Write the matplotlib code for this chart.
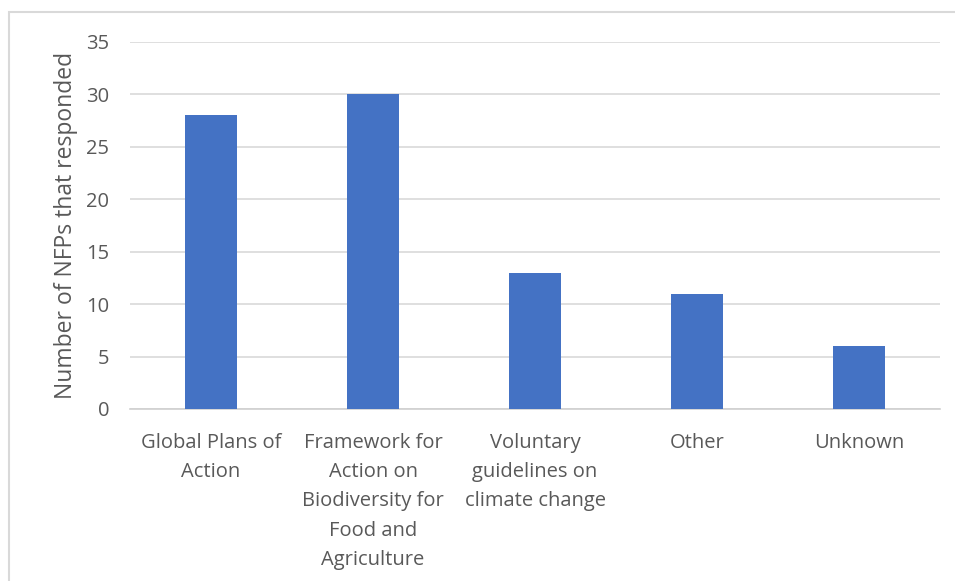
import matplotlib.pyplot as plt
from matplotlib.patches import Rectangle

categories = ["Global Plans of\nAction",
              "Framework for\nAction on\nBiodiversity for\nFood and\nAgriculture",
              "Voluntary\nguidelines on\nclimate change",
              "Other",
              "Unknown"]
values = [28, 30, 13, 11, 6]
yticks = [0, 5, 10, 15, 20, 25, 30, 35]

plt.rcParams['font.family'] = ['Open Sans', 'DejaVu Sans']
txt = "#595959"

fig = plt.figure(figsize=(9.55, 5.81), dpi=100)
ax = fig.add_axes([130/955, 1 - 409/581, 810/955, 367/581])

x = range(len(categories))
ax.bar(x, values, width=0.32, color="#4472C4", zorder=3)

ax.set_ylim(0, 35)
ax.set_xlim(-0.5, len(categories) - 0.5)
ax.set_yticks(yticks)
ax.set_xticks(list(x))
ax.set_xticklabels(categories, fontsize=14.5, color=txt, linespacing=1.62, va="top")
ax.tick_params(axis="y", labelsize=14.5, colors=txt, length=0, pad=15)
ax.tick_params(axis="x", length=0, pad=17)
ax.grid(axis="y", color="#D9D9D9", linewidth=1.2, zorder=0)
for s in ["top", "right", "left"]:
    ax.spines[s].set_visible(False)
ax.spines["bottom"].set_color("#D0D0D0")
ax.spines["bottom"].set_linewidth(1.2)
ax.set_ylabel("Number of NFPs that responded", fontsize=16.5, color=txt, labelpad=6)

# outer chart frame
fig.patches.append(Rectangle((9/955, -0.1), 1.2, 1 - 12/581 + 0.1,
                             transform=fig.transFigure, fill=False,
                             edgecolor="#D9D9D9", linewidth=1.5))

fig.savefig("out.png", dpi=100)
